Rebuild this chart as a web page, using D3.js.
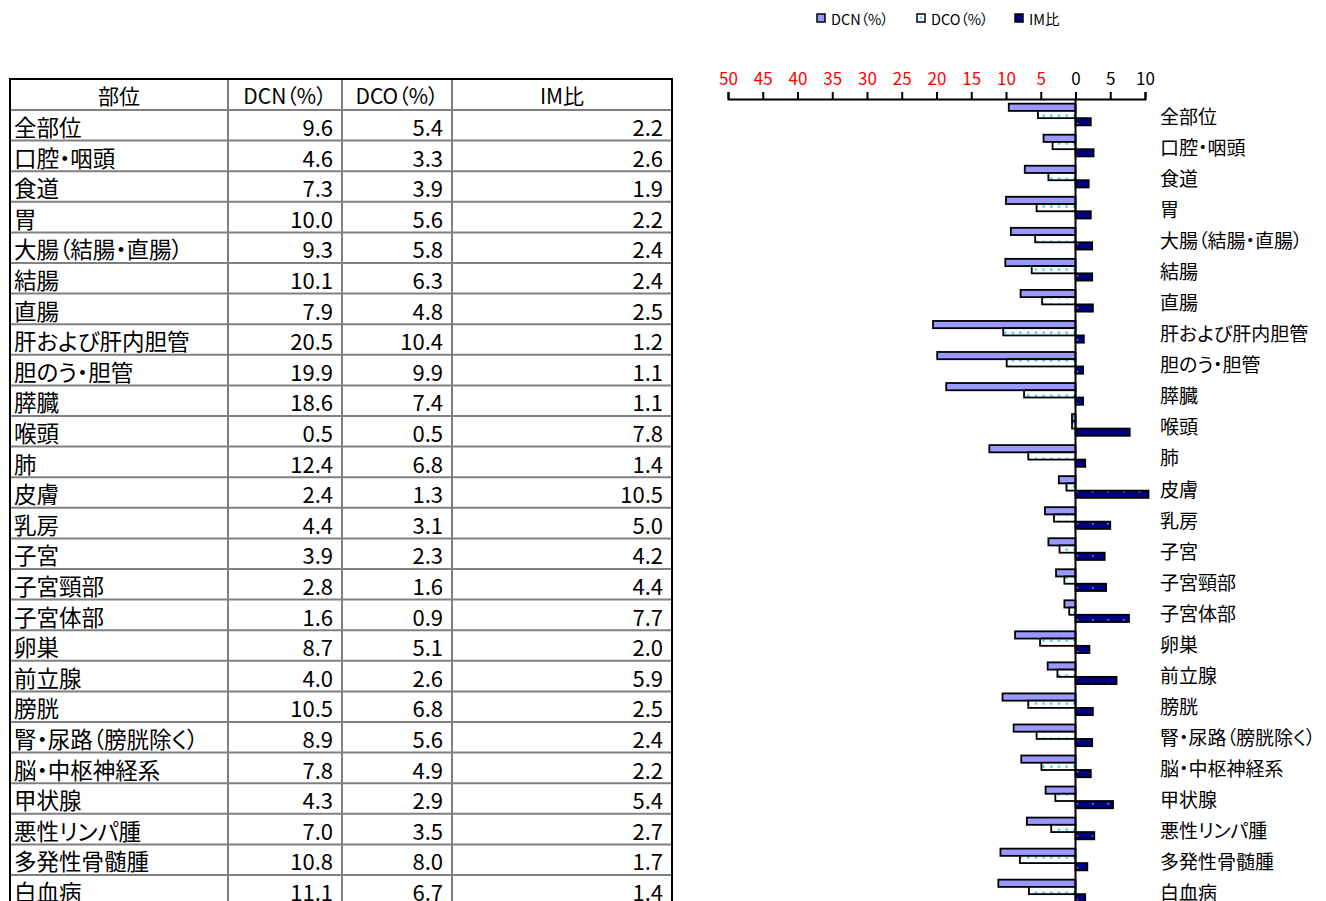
<!DOCTYPE html>
<html lang="ja">
<head>
<meta charset="UTF-8">
<title>DCN・DCO・IM比</title>
<script src="https://d3js.org/d3.v7.min.js"></script>
<style>
  body { margin: 0; background: #fff; }
  text { font-family: "Noto Sans CJK JP", "Noto Sans", sans-serif; font-feature-settings: "palt"; }
</style>
</head>
<body>
<div id="chart"></div>
<script>
const sites = ["全部位", "口腔・咽頭", "食道", "胃", "大腸（結腸・直腸）", "結腸", "直腸",
  "肝および肝内胆管", "胆のう・胆管", "膵臓", "喉頭", "肺", "皮膚", "乳房", "子宮",
  "子宮頸部", "子宮体部", "卵巣", "前立腺", "膀胱", "腎・尿路（膀胱除く）",
  "脳・中枢神経系", "甲状腺", "悪性リンパ腫", "多発性骨髄腫", "白血病"];
const dcn = [9.6, 4.6, 7.3, 10.0, 9.3, 10.1, 7.9, 20.5, 19.9, 18.6, 0.5, 12.4, 2.4, 4.4,
  3.9, 2.8, 1.6, 8.7, 4.0, 10.5, 8.9, 7.8, 4.3, 7.0, 10.8, 11.1];
const dco = [5.4, 3.3, 3.9, 5.6, 5.8, 6.3, 4.8, 10.4, 9.9, 7.4, 0.5, 6.8, 1.3, 3.1,
  2.3, 1.6, 0.9, 5.1, 2.6, 6.8, 5.6, 4.9, 2.9, 3.5, 8.0, 6.7];
const imRatio = [2.2, 2.6, 1.9, 2.2, 2.4, 2.4, 2.5, 1.2, 1.1, 1.1, 7.8, 1.4, 10.5, 5.0,
  4.2, 4.4, 7.7, 2.0, 5.9, 2.5, 2.4, 2.2, 5.4, 2.7, 1.7, 1.4];
const headers = ["部位", "DCN（%）", "DCO（%）", "IM比"];
const seriesNames = ["DCN（%）", "DCO（%）", "IM比"];
const axisTicks = [-50, -45, -40, -35, -30, -25, -20, -15, -10, -5, 0, 5, 10];

const W = 1326, H = 901;
const svg = d3.select("#chart").append("svg")
  .attr("width", W).attr("height", H);

// patterns
const defs = svg.append("defs");
const pDco = defs.append("pattern").attr("id", "pat-dco")
  .attr("patternUnits", "userSpaceOnUse").attr("width", 7.7).attr("height", 7);
pDco.append("rect").attr("width", 7.7).attr("height", 7).attr("fill", "#fff");
pDco.append("rect").attr("x", 3).attr("y", 2.5).attr("width", 2.2).attr("height", 2.2).attr("fill", "#22c8ff");
const pIm = defs.append("pattern").attr("id", "pat-im")
  .attr("patternUnits", "userSpaceOnUse").attr("width", 15.5).attr("height", 8);
pIm.append("rect").attr("width", 15.5).attr("height", 8).attr("fill", "#000080");
pIm.append("rect").attr("x", 7).attr("y", 3).attr("width", 1.5).attr("height", 1.5).attr("fill", "#aaaadd");
const fills = ["#9999ff", "url(#pat-dco)", "url(#pat-im)"];

// ---------- table ----------
const colX = [10, 228, 342, 452, 672];
const headTop = 79, headBottom = 110;
const rowY = d3.scaleBand().domain(d3.range(sites.length))
  .range([headBottom, headBottom + sites.length * 30.6]);
const tableBottom = headBottom + sites.length * 30.6;
const table = svg.append("g");

// grid lines
rowY.domain().forEach(i => {
  table.append("line")
    .attr("x1", colX[0]).attr("x2", colX[4])
    .attr("y1", rowY(i)).attr("y2", rowY(i))
    .attr("stroke", "#808080").attr("stroke-width", 2);
});
colX.slice(1, 4).forEach(x => {
  table.append("line")
    .attr("x1", x).attr("x2", x)
    .attr("y1", headTop).attr("y2", tableBottom)
    .attr("stroke", "#808080").attr("stroke-width", 2);
});
// outer border
table.append("path")
  .attr("d", `M${colX[0]},${tableBottom}V${headTop}H${colX[4]}V${tableBottom}`)
  .attr("fill", "none").attr("stroke", "#000").attr("stroke-width", 2);

headers.forEach((h, j) => {
  table.append("text")
    .attr("x", (colX[j] + colX[j + 1]) / 2).attr("y", headTop + 25)
    .attr("text-anchor", "middle").attr("font-size", 21).text(h);
});
const cols = [dcn, dco, imRatio];
sites.forEach((s, i) => {
  const base = rowY(i) + 26;
  table.append("text").attr("x", colX[0] + 4).attr("y", base)
    .attr("font-size", 22.5).text(s);
  cols.forEach((arr, j) => {
    table.append("text").attr("x", colX[j + 2] - 9).attr("y", base)
      .attr("text-anchor", "end").attr("font-size", 22).text(arr[i].toFixed(1));
  });
});

// ---------- chart ----------
const x = d3.scaleLinear().domain([-50, 10]).range([728, 1145]);
const axisY = 99;
const y = d3.scaleBand().domain(sites).range([axisY, axisY + sites.length * 31.04])
  .paddingInner(0.3).paddingOuter(0.15);
const yInner = d3.scaleBand().domain([0, 1, 2]).range([0, y.bandwidth()]);

const chart = svg.append("g");
sites.forEach((s, i) => {
  const vals = [-dcn[i], -dco[i], imRatio[i]];
  vals.forEach((v, k) => {
    chart.append("rect")
      .attr("x", Math.min(x(0), x(v)))
      .attr("y", y(s) + yInner(k))
      .attr("width", Math.abs(x(v) - x(0)))
      .attr("height", yInner.bandwidth())
      .attr("fill", fills[k])
      .attr("stroke", "#000").attr("stroke-width", 1.8);
  });
  chart.append("text")
    .attr("x", 1160).attr("y", y(s) + y.bandwidth() / 2 + 1)
    .attr("dominant-baseline", "central")
    .attr("font-size", 19).text(s);
});

// zero line
chart.append("line")
  .attr("x1", x(0)).attr("x2", x(0))
  .attr("y1", axisY).attr("y2", H)
  .attr("stroke", "#000").attr("stroke-width", 2);

// top axis
const ax = svg.append("g").attr("transform", `translate(0,${axisY})`)
  .call(d3.axisTop(x).tickValues(axisTicks).tickFormat(d => Math.abs(d))
    .tickSize(7).tickSizeOuter(7).tickPadding(7));
ax.select(".domain").attr("stroke-width", 2);
ax.selectAll(".tick line").attr("stroke-width", 2);
ax.selectAll(".tick text")
  .attr("font-family", "'Liberation Sans', Arial, sans-serif")
  .attr("font-size", 17)
  .attr("fill", d => d < 0 ? "#ff0000" : "#000");

// legend
const legX = [817, 917, 1015];
seriesNames.forEach((n, k) => {
  const g = svg.append("g").attr("transform", `translate(${legX[k]},14)`);
  g.append("rect").attr("width", 8).attr("height", 8)
    .attr("fill", fills[k]).attr("stroke", "#000").attr("stroke-width", 1.5);
  g.append("text").attr("x", 14).attr("y", 4)
    .attr("dominant-baseline", "central").attr("font-size", 14.5).text(n);
});
</script>
</body>
</html>
